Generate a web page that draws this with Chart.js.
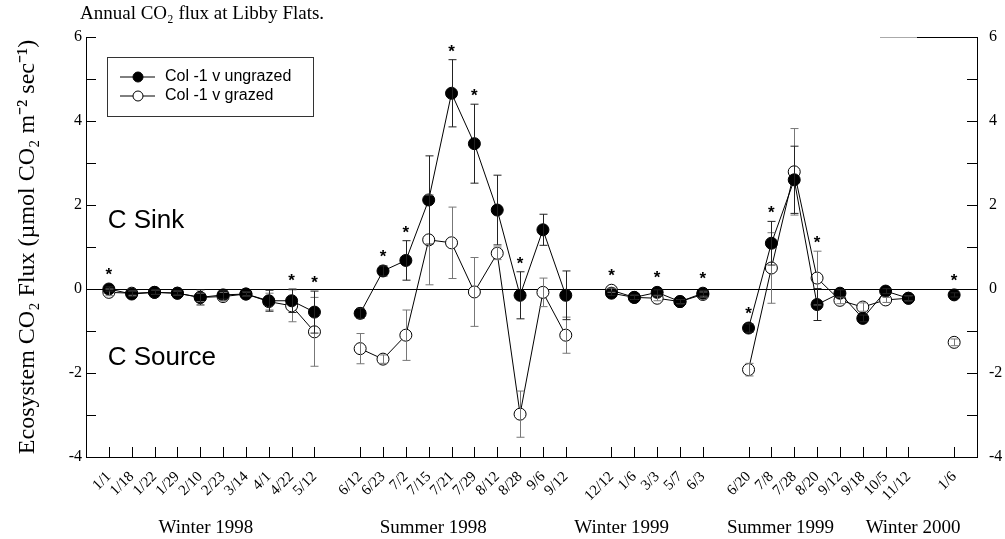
<!DOCTYPE html>
<html>
<head>
<meta charset="utf-8">
<script src="https://cdn.jsdelivr.net/npm/chart.js@4.4.1/dist/chart.umd.min.js"></script>
<style>
  html, body { margin: 0; padding: 0; background: #fff; }
</style>
</head>
<body>
<canvas id="fluxChart" width="1005" height="539"></canvas>
<script>
// sampling dates, '' = empty slot between seasons (and the two axis ends)
const dates = ['', '1/1', '1/18', '1/22', '1/29', '2/10', '2/23', '3/14', '4/1', '4/22', '5/12',
    '', '6/12', '6/23', '7/2', '7/15', '7/21', '7/29', '8/12', '8/28', '9/6', '9/12',
    '', '12/12', '1/6', '3/3', '5/7', '6/3',
    '', '6/20', '7/8', '7/28', '8/20', '9/12', '9/18', '10/5', '11/12',
    '', '1/6', ''];

// Col -1 v ungrazed (filled circles)
const ungrazed = [null, 0.0, -0.12, -0.08, -0.1, -0.2, -0.14, -0.12, -0.28, -0.28, -0.55,
    null, -0.58, 0.43, 0.68, 2.12, 4.66, 3.46, 1.88, -0.15, 1.41, -0.15,
    null, -0.1, -0.2, -0.08, -0.3, -0.1,
    null, -0.93, 1.09, 2.6, -0.37, -0.1, -0.7, -0.05, -0.22,
    null, -0.14, null];
const ungrazedErr = [0, 0.05, 0.06, 0.05, 0.05, 0.18, 0.1, 0.06, 0.25, 0.28, 0.5,
    0, 0.12, 0.12, 0.47, 1.05, 0.8, 0.94, 0.83, 0.56, 0.37, 0.58,
    0, 0.05, 0.05, 0.06, 0.05, 0.06,
    0, 0.1, 0.52, 0.8, 0.38, 0.08, 0.08, 0.06, 0.06,
    0, 0.05, 0];

// Col -1 v grazed (open circles)
const grazed = [null, -0.08, -0.1, -0.08, -0.1, -0.2, -0.18, -0.12, -0.3, -0.4, -1.02,
    null, -1.42, -1.67, -1.1, 1.17, 1.1, -0.07, 0.85, -2.98, -0.08, -1.1,
    null, -0.03, -0.2, -0.22, -0.3, -0.13,
    null, -1.92, 0.5, 2.79, 0.26, -0.27, -0.43, -0.26, -0.22,
    null, -1.27, null];
const grazedErr = [0, 0.08, 0.05, 0.05, 0.05, 0.1, 0.1, 0.05, 0.2, 0.38, 0.82,
    0, 0.36, 0.1, 0.6, 1.07, 0.85, 0.82, 0.15, 0.55, 0.34, 0.43,
    0, 0.05, 0.05, 0.06, 0.05, 0.06,
    0, 0.15, 0.84, 1.03, 0.64, 0.08, 0.1, 0.06, 0.06,
    0, 0.08, 0];

// dates with a significant difference
const starred = [1, 9, 10, 13, 14, 16, 17, 19, 23, 25, 27, 29, 30, 32, 38];

// season names and the slot they are centred under
const seasons = ['Winter 1998', 'Summer 1998', 'Winter 1999', 'Summer 1999', 'Winter 2000'];
const seasonAt = [5.25, 15.2, 23.45, 30.4, 36.2];

const yTicks = [-4, -3, -2, -1, 0, 1, 2, 3, 4, 5, 6];

const serif = 'Liberation Serif';
const sans = 'Liberation Sans';

// error bars, asterisks, inward ticks, texts and the legend box
const extras = {
    id: 'extras',
    afterDatasetsDraw(chart) {
        const ctx = chart.ctx;
        const xs = chart.scales.x, ys = chart.scales.y;
        ctx.save();
        ctx.lineWidth = 1;
        [[grazed, grazedErr, '#777'], [ungrazed, ungrazedErr, '#222']].forEach(function(set) {
            const vals = set[0], errs = set[1];
            ctx.strokeStyle = set[2];
            vals.forEach(function(v, i) {
                if (v === null || !errs[i]) return;
                const px = Math.round(xs.getPixelForValue(i)) + 0.5;
                const t = ys.getPixelForValue(v + errs[i]);
                const b = ys.getPixelForValue(v - errs[i]);
                ctx.beginPath();
                ctx.moveTo(px, t); ctx.lineTo(px, b);
                ctx.moveTo(px - 4, t); ctx.lineTo(px + 4, t);
                ctx.moveTo(px - 4, b); ctx.lineTo(px + 4, b);
                ctx.stroke();
            });
        });
        ctx.restore();
    },
    afterDraw(chart) {
        const ctx = chart.ctx;
        const area = chart.chartArea;
        const xs = chart.scales.x, ys = chart.scales.y;
        ctx.save();
        ctx.strokeStyle = '#000';
        ctx.fillStyle = '#000';
        ctx.lineWidth = 1;

        // inward tick marks
        ctx.beginPath();
        yTicks.forEach(function(v) {
            const py = Math.round(ys.getPixelForValue(v)) + 0.5;
            ctx.moveTo(area.left, py); ctx.lineTo(area.left + 10, py);
            ctx.moveTo(area.right, py); ctx.lineTo(area.right - 10, py);
        });
        dates.forEach(function(d, i) {
            if (d === '') return;
            const px = Math.round(xs.getPixelForValue(i)) + 0.5;
            ctx.moveTo(px, area.bottom); ctx.lineTo(px, area.bottom - 10);
        });
        ctx.stroke();

        // short piece of top frame at the right
        ctx.beginPath();
        ctx.moveTo(area.right - 60, area.top + 0.5); ctx.lineTo(area.right, area.top + 0.5);
        ctx.stroke();
        ctx.strokeStyle = '#aaa';
        ctx.beginPath();
        ctx.moveTo(area.right - 97, area.top + 0.5); ctx.lineTo(area.right - 60, area.top + 0.5);
        ctx.stroke();
        ctx.strokeStyle = '#000';

        // asterisks
        ctx.font = 'bold 17px ' + sans;
        ctx.textAlign = 'center';
        ctx.textBaseline = 'alphabetic';
        starred.forEach(function(i) {
            const hi = Math.max(ungrazed[i] + ungrazedErr[i], grazed[i] + grazedErr[i]);
            const top = Math.min(ys.getPixelForValue(hi), ys.getPixelForValue(Math.max(ungrazed[i], grazed[i])) - 6);
            ctx.fillText('*', xs.getPixelForValue(i), top - 13 + 10);
        });

        // C Sink / C Source
        ctx.font = '26px ' + sans;
        ctx.textAlign = 'left';
        ctx.textBaseline = 'middle';
        ctx.fillText('C Sink', xs.getPixelForValue(0.95), ys.getPixelForValue(1.62));
        ctx.fillText('C Source', xs.getPixelForValue(0.95), ys.getPixelForValue(-1.64));

        // title
        ctx.font = '19px ' + serif;
        ctx.fillText('Annual CO\u2082 flux at Libby Flats.', 80, 14);

        // season labels
        ctx.font = '19px ' + serif;
        ctx.textAlign = 'center';
        seasons.forEach(function(s, k) {
            ctx.fillText(s, xs.getPixelForValue(seasonAt[k]), 528);
        });

        // legend box
        const lx = area.left + 21, ly = area.top + 20;
        ctx.strokeStyle = '#333';
        ctx.strokeRect(lx + 0.5, ly + 0.5, 206, 59);
        chart.data.datasets.forEach(function(ds, k) {
            const ry = ly + 20 + k * 19;
            ctx.strokeStyle = '#000';
            ctx.beginPath();
            ctx.moveTo(lx + 13, ry); ctx.lineTo(lx + 48, ry);
            ctx.stroke();
            ctx.beginPath();
            ctx.arc(lx + 31, ry, 5, 0, Math.PI * 2);
            ctx.fillStyle = ds.pointBackgroundColor;
            ctx.fill();
            ctx.stroke();
            ctx.fillStyle = '#000';
            ctx.font = '16px ' + sans;
            ctx.textAlign = 'left';
            ctx.fillText(ds.label, lx + 58, ry);
        });
        ctx.restore();
    }
};

function evenOnly(v) {
    return v % 2 === 0 ? String(v) : '';
}

const ctx = document.getElementById('fluxChart').getContext('2d');
new Chart(ctx, {
    type: 'line',
    data: {
        labels: dates,
        datasets: [
            {
                label: 'Col -1 v ungrazed',
                data: ungrazed,
                borderColor: '#000',
                borderWidth: 1,
                pointRadius: 6,
                pointBackgroundColor: '#000',
                pointBorderColor: '#000',
                pointBorderWidth: 1,
                spanGaps: false
            },
            {
                label: 'Col -1 v grazed',
                data: grazed,
                borderColor: '#000',
                borderWidth: 1,
                pointRadius: 6,
                pointBackgroundColor: '#fff',
                pointBorderColor: '#000',
                pointBorderWidth: 1,
                spanGaps: false
            }
        ]
    },
    options: {
        responsive: false,
        animation: false,
        layout: { padding: { top: 37, left: 0, right: 0, bottom: 0 } },
        plugins: {
            legend: { display: false },
            tooltip: { enabled: false }
        },
        scales: {
            x: {
                type: 'category',
                offset: false,
                grid: { display: false },
                border: { display: true, color: '#000', width: 1 },
                ticks: {
                    autoSkip: false,
                    minRotation: 45,
                    maxRotation: 45,
                    padding: 3,
                    color: '#000',
                    font: { family: serif, size: 15 }
                },
                afterFit: function(s) { s.height = 82; }
            },
            y: {
                position: 'left',
                min: -4,
                max: 6,
                afterBuildTicks: function(s) { s.ticks = yTicks.map(v => ({ value: v })); },
                grid: {
                    drawTicks: false,
                    color: c => c.tick && c.tick.value === 0 ? '#000' : 'rgba(0,0,0,0)',
                    lineWidth: 1
                },
                border: { display: true, color: '#000', width: 1 },
                ticks: {
                    padding: 4,
                    color: '#000',
                    font: { family: serif, size: 16 },
                    callback: evenOnly
                },
                title: {
                    display: true,
                    text: 'Ecosystem CO\u2082 Flux (\u00b5mol CO\u2082 m\u207b\u00b2 sec\u207b\u00b9)',
                    color: '#000',
                    font: { family: serif, size: 24 },
                    padding: { top: 13, bottom: 0 }
                },
                afterFit: function(s) { s.width = 86; }
            },
            y2: {
                position: 'right',
                min: -4,
                max: 6,
                afterBuildTicks: function(s) { s.ticks = yTicks.map(v => ({ value: v })); },
                grid: { display: false, drawTicks: false },
                border: { display: true, color: '#000', width: 1 },
                ticks: {
                    padding: 12,
                    color: '#000',
                    font: { family: serif, size: 16 },
                    callback: evenOnly
                },
                afterFit: function(s) { s.width = 28; }
            }
        }
    },
    plugins: [extras]
});
</script>
</body>
</html>
